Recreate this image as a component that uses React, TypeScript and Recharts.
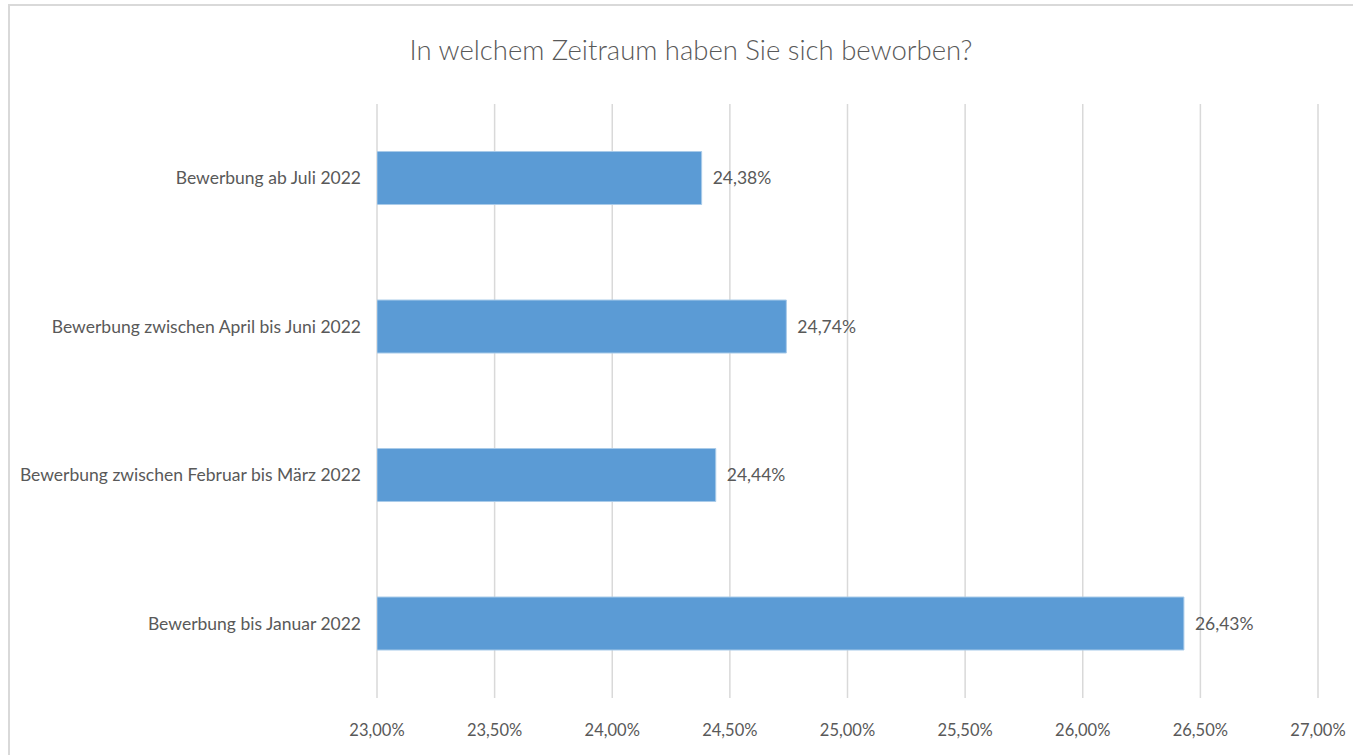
import { BarChart, Bar, XAxis, YAxis, CartesianGrid, LabelList } from 'recharts';

const categories = [
  'Bewerbung ab Juli 2022',
  'Bewerbung zwischen April bis Juni 2022',
  'Bewerbung zwischen Februar bis März 2022',
  'Bewerbung bis Januar 2022',
];
const shares = [24.38, 24.74, 24.44, 26.43];
const xTicks = [23, 23.5, 24, 24.5, 25, 25.5, 26, 26.5, 27];

const FONT = 'Lato, "Open Sans", sans-serif';
const TEXT = '#595959';

const fmt = (v: number) => v.toFixed(2).replace('.', ',') + '%';

const data = categories.map((name, i) => ({ name, value: shares[i] }));

export default function App() {
  return (
    <div
      style={{
        position: 'absolute',
        left: 8,
        top: 4,
        width: 1360,
        height: 760,
        border: '2px solid #d9d9d9',
        background: '#fff',
        fontFamily: FONT,
      }}
    >
      <div
        style={{
          position: 'absolute',
          left: 0,
          top: 27,
          width: 1362,
          textAlign: 'center',
          fontSize: 27.5,
          fontWeight: 300,
          color: TEXT,
        }}
      >
        In welchem Zeitraum haben Sie sich beworben?
      </div>
      <div style={{ position: 'absolute', left: 0, top: 0 }}>
        <BarChart
          width={1350}
          height={750}
          data={data}
          layout="vertical"
          margin={{ top: 98, right: 42, bottom: 18, left: 0 }}
          barCategoryGap="32%"
        >
          <CartesianGrid horizontal={false} stroke="#d9d9d9" strokeWidth={1.5} />
          <XAxis
            type="number"
            domain={[23, 27]}
            ticks={xTicks}
            allowDataOverflow
            axisLine={false}
            tickLine={false}
            height={40}
            tickMargin={20}
            tickFormatter={fmt}
            tick={{ fill: TEXT, fontSize: 16.5, fontFamily: FONT }}
          />
          <YAxis
            type="category"
            dataKey="name"
            width={367}
            axisLine={false}
            tickLine={false}
            tickMargin={10}
            tick={{ fill: TEXT, fontSize: 17.5, fontFamily: FONT }}
          />
          <Bar dataKey="value" fill="#5b9bd5" stroke="#a9cbe9" strokeWidth={1} isAnimationActive={false}>
            <LabelList
              dataKey="value"
              position="right"
              offset={11}
              formatter={(v: number) => fmt(v)}
              style={{ fill: TEXT, fontSize: 17.5, fontFamily: FONT }}
            />
          </Bar>
        </BarChart>
      </div>
    </div>
  );
}
